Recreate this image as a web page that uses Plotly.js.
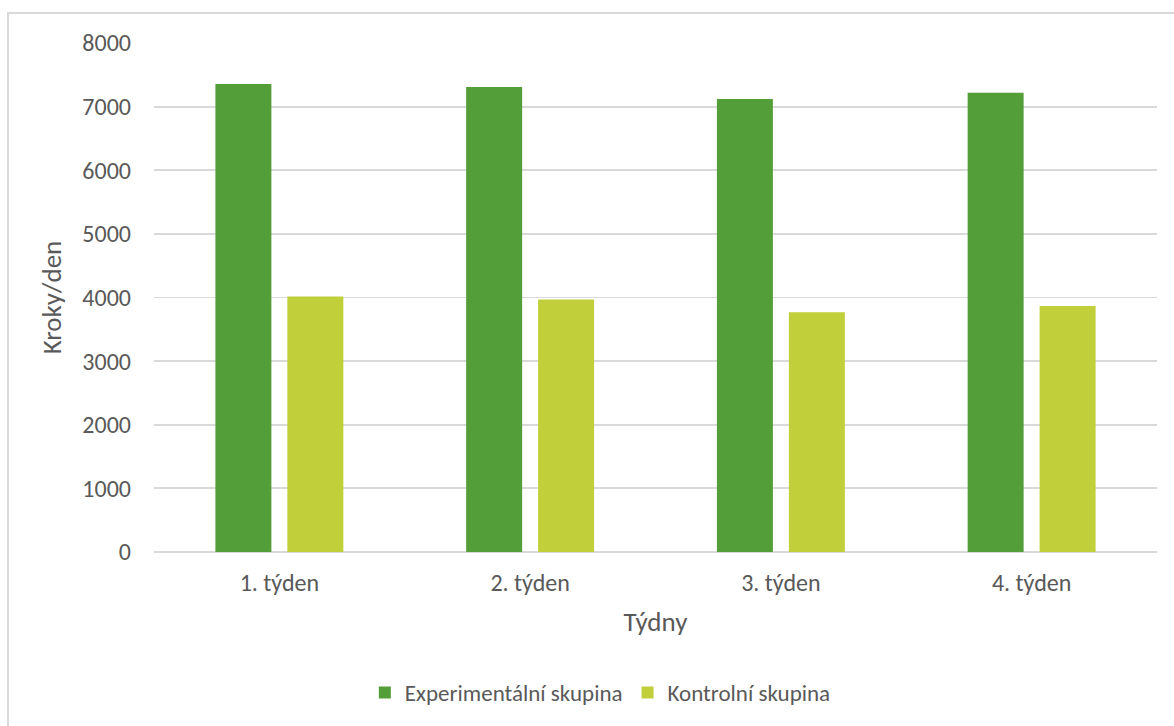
<!DOCTYPE html>
<html>
<head>
<meta charset="utf-8">
<script src="https://cdn.plot.ly/plotly-3.0.1.min.js"></script>
<style>
  html, body { margin: 0; padding: 0; overflow: hidden; background: #fff; }
  #chart { width: 1174px; height: 726px; }
  #frame { position: absolute; left: 7px; top: 12px; width: 1300px; height: 900px;
           border: 2px solid #D9D9D9; pointer-events: none; }
</style>
</head>
<body>
<div id="chart"></div>
<div id="frame"></div>
<script>
const categories = ["1. týden", "2. týden", "3. týden", "4. týden"];
const experimentalni = [7355, 7310, 7120, 7220];
const kontrolni = [4015, 3970, 3770, 3865];
const seriesNames = ["Experimentální skupina", "Kontrolní skupina"];
const yTicks = [0, 1000, 2000, 3000, 4000, 5000, 6000, 7000, 8000];

const fontFamily = "Carlito, Lato, 'Open Sans', sans-serif";
const textColor = "#595959";

const data = [
  { type: "bar", name: seriesNames[0], x: categories, y: experimentalni,
    marker: { color: "#549E39", line: { width: 0 } }, hoverinfo: "x+y" },
  { type: "bar", name: seriesNames[1], x: categories, y: kontrolni,
    marker: { color: "#C0CF3A", line: { width: 0 } }, hoverinfo: "x+y" }
];

const layout = {
  width: 1174, height: 726,
  margin: { l: 154, r: 17, t: 43, b: 169 },
  paper_bgcolor: "#ffffff", plot_bgcolor: "#ffffff",
  font: { family: fontFamily, size: 24, color: textColor },
  barmode: "group",
  bargap: 0.426,
  bargroupgap: 0.222,
  showlegend: true,
  legend: {
    orientation: "h", x: 0.445, xanchor: "center", y: -0.276, yanchor: "middle",
    font: { family: fontFamily, size: 23, color: textColor },
    itemwidth: 30, tracegroupgap: 0
  },
  xaxis: {
    type: "category",
    showgrid: false, zeroline: false, showline: false,
    ticks: "", ticklabelstandoff: 14,
    tickfont: { family: fontFamily, size: 24, color: textColor },
    title: { text: "Týdny", font: { family: fontFamily, size: 27, color: textColor }, standoff: 16 }
  },
  yaxis: {
    range: [0, 8000], tickvals: yTicks, ticktext: yTicks.map(String),
    showgrid: true, gridcolor: "#D9D9D9", gridwidth: 1.8,
    zeroline: true, zerolinecolor: "#D9D9D9", zerolinewidth: 1.8,
    showline: false, ticks: "", ticklabelstandoff: 22,
    tickfont: { family: fontFamily, size: 24, color: textColor },
    title: { text: "Kroky/den", font: { family: fontFamily, size: 27, color: textColor }, standoff: 12 }
  }
};

Plotly.newPlot("chart", data, layout, { displayModeBar: false, staticPlot: true });
</script>
</body>
</html>
